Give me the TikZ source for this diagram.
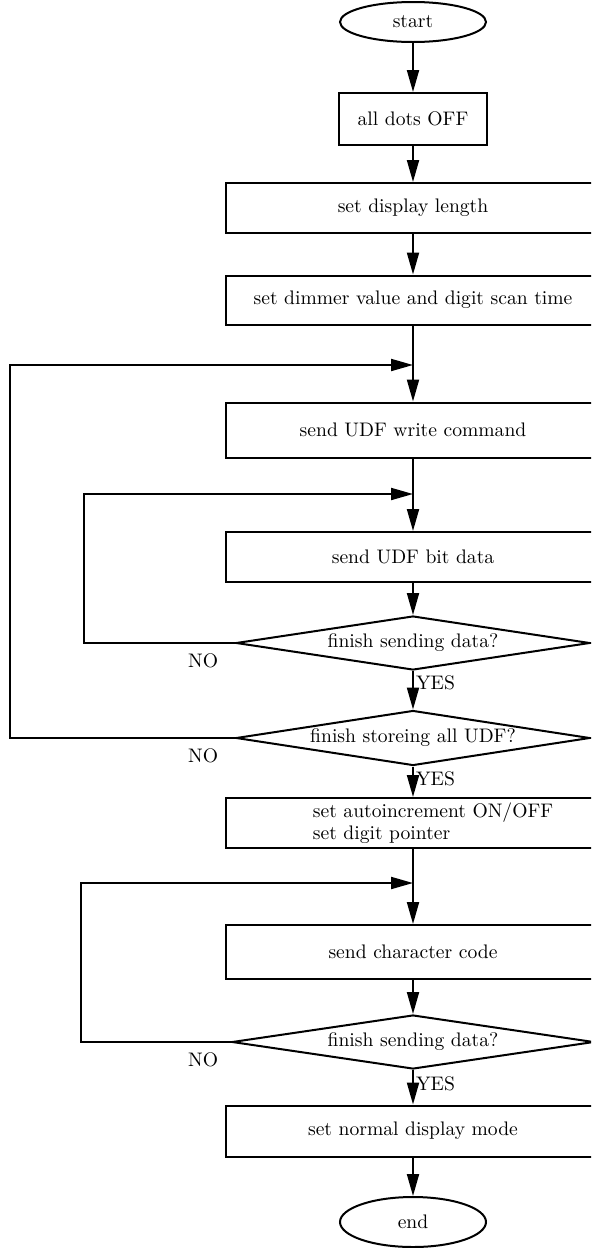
\documentclass[tikz,border=0pt]{standalone}
\usepackage{tikz}
\usetikzlibrary{shapes}
\usetikzlibrary{arrows.meta}
\usetikzlibrary{positioning}

\begin{document}
\begin{tikzpicture}[x=0.5pt, y=-0.5pt, line width=1pt,
        font=\fontsize{9.8}{11}\selectfont,
        box/.style={draw, rectangle, minimum width=187pt, inner sep=2pt},
        term/.style={draw, ellipse, minimum width=73pt, minimum height=20pt, inner sep=0pt},
        decision/.style={draw, diamond, aspect=7, inner sep=0pt, minimum width=177pt, minimum height=27pt},
        flow/.style={-{Triangle[length=11pt, width=6pt]}},
        lbl/.style={inner sep=1pt}]
        \useasboundingbox (0, 0) rectangle (591, 1248);
        \clip (0, 0) rectangle (591, 1248);

        \node[term] (start) at (413, 22) {start};
        \node[box, minimum width=74pt, minimum height=26pt] (dots) at (413, 119) {all dots OFF};
        \node[box, minimum height=25pt] (length) at (413, 208) {set display length};
        \node[box, minimum height=24.5pt] (dimmer) at (413, 300) {set dimmer value and digit scan time};
        \node[box, minimum height=27.5pt] (udfcmd) at (413, 430) {send UDF write command};
        \node[box, minimum height=25pt] (udfbit) at (413, 557) {send UDF bit data};
        \node[decision] (fin1) at (413, 643) {finish sending data?};
        \node[decision, minimum height=27.5pt] (fin2) at (413, 738) {finish storeing all UDF?};
        \node[box, minimum height=25pt, align=left] (autoinc) at (413, 823) {\hspace*{20pt}set autoincrement ON/OFF\\\hspace*{20pt}set digit pointer};
        \node[box, minimum height=27pt] (chr) at (413, 952) {send character code};
        \node[decision, minimum width=181pt] (fin3) at (413, 1042) {finish sending data?};
        \node[box, minimum height=25.5pt] (normal) at (413, 1131) {set normal display mode};
        \node[term, minimum height=25pt] (end) at (413, 1222) {end};

        % joints where the loops come back
        \coordinate (j1) at (413, 365);
        \coordinate (j2) at (413, 494);
        \coordinate (j3) at (413, 883);

        \draw[flow] (start.south) -- (dots.north);
        \draw[flow] (dots.south) -- (length.north);
        \draw[flow] (length.south) -- (dimmer.north);
        \draw[flow] (dimmer.south) -- (udfcmd.north);
        \draw[flow] (udfcmd.south) -- (udfbit.north);
        \draw[flow] (udfbit.south) -- (fin1.north);
        \draw[flow] (fin1.south) -- node[lbl, right, pos=0.3] {YES} (fin2.north);
        \draw[flow] (fin2.south) -- node[lbl, right, pos=0.4] {YES} (autoinc.north);
        \draw[flow] (autoinc.south) -- (chr.north);
        \draw[flow] (chr.south) -- (fin3.north);
        \draw[flow] (fin3.south) -- node[lbl, right, pos=0.4] {YES} (normal.north);
        \draw[flow] (normal.south) -- (end.north);

        \draw[flow] (fin1.west) -- node[lbl, pos=0, below left=4pt and 7pt] {NO} ++(-151, 0) |- (j2);
        \draw[flow] (fin2.west) -- node[lbl, pos=0, below left=4pt and 7pt] {NO} ++(-225, 0) |- (j1);
        \draw[flow] (fin3.west) -- node[lbl, pos=0, below left=4pt and 5pt] {NO} ++(-150, 0) |- (j3);
    \end{tikzpicture}
\end{document}
